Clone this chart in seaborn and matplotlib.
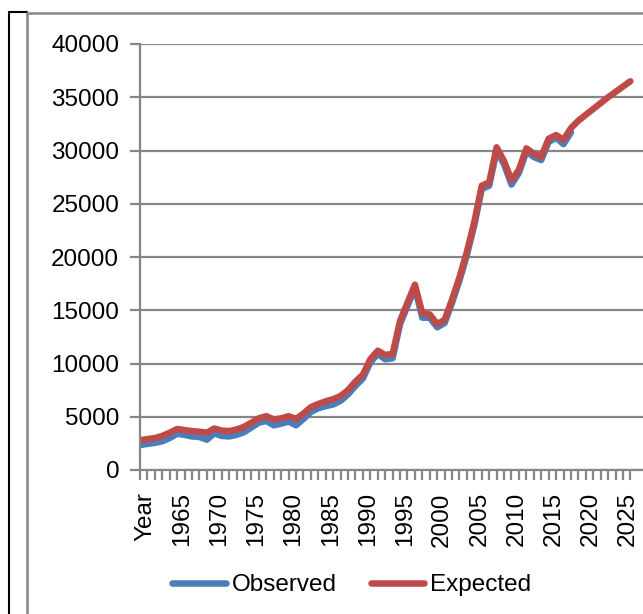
import matplotlib
matplotlib.use("Agg")
import matplotlib.pyplot as plt
import matplotlib.transforms as mtransforms
from matplotlib.lines import Line2D
import pandas as pd
import seaborn as sns

# category axis: first cell is the header "Year", then 1961..2026
categories = ["Year"] + [str(y) for y in range(1961, 2027)]

observed = [2350, 2450, 2550, 2700, 3000, 3400, 3300, 3150, 3100, 2850,
            3450, 3200, 3150, 3300, 3550, 4000, 4450, 4600, 4200, 4350,
            4550, 4200, 4800, 5450, 5800, 6000, 6150, 6500, 7100, 7900,
            8600, 10100, 10900, 10400, 10500, 13700, 15400, 17100, 14300, 14300,
            13400, 13800, 15700, 17800, 20200, 23000, 26400, 26700, 30000, 28700,
            26800, 27900, 29900, 29400, 29100, 30800, 31200, 30600, 31700]

expected = [2800, 2900, 3000, 3200, 3500, 3850, 3750, 3650, 3600, 3500,
            3900, 3700, 3650, 3800, 4050, 4450, 4850, 5050, 4750, 4850,
            5050, 4800, 5300, 5900, 6200, 6450, 6650, 6950, 7500, 8300,
            8950, 10400, 11200, 10800, 10900, 14000, 15700, 17400, 14700, 14600,
            13700, 14100, 16000, 18100, 20500, 23300, 26700, 27000, 30300, 29000,
            27200, 28200, 30200, 29700, 29400, 31100, 31450, 31000, 32100, 32800,
            33350, 33900, 34450, 35000, 35500, 36000, 36500]

df = pd.concat([
    pd.DataFrame({"pos": range(len(observed)), "value": observed, "series": "Observed"}),
    pd.DataFrame({"pos": range(len(expected)), "value": expected, "series": "Expected"}),
])

sns.set_style("white")
plt.rcParams['font.family'] = ['Liberation Sans', 'DejaVu Sans']
plt.rcParams['text.color'] = 'black'
plt.rcParams['xtick.labelcolor'] = 'black'
plt.rcParams['ytick.labelcolor'] = 'black'

fig = plt.figure(figsize=(6.43, 6.14), dpi=100)
ax = fig.add_axes([140 / 643, 1 - 470 / 614, 1 - 140 / 643, 426 / 614])

grey = "#868686"
sns.lineplot(data=df, x="pos", y="value", hue="series",
             hue_order=["Observed", "Expected"],
             palette={"Observed": "#4A7EBB", "Expected": "#BE4B48"},
             linewidth=4.7, solid_capstyle="round", solid_joinstyle="round",
             legend=False, ax=ax)

ax.set_xlim(0, 67.7)
ax.set_ylim(0, 40000)
ax.set_yticks(range(0, 40001, 5000))
ax.set_xticks(range(0, len(categories), 5))
ax.set_xticklabels(categories[::5], rotation=90)
ax.set_xticks(range(len(categories)), minor=True)
ax.set_xlabel("")
ax.set_ylabel("")

ax.grid(axis="y", color=grey, linewidth=1.6)
ax.grid(axis="x", visible=False)
ax.set_axisbelow(True)
for side in ["top", "right"]:
    ax.spines[side].set_visible(False)
for side in ["left", "bottom"]:
    ax.spines[side].set_color(grey)
    ax.spines[side].set_linewidth(1.6)

ax.tick_params(axis="y", direction="out", length=7, width=1.6, color=grey,
               pad=8, labelsize=17.5, labelcolor="black", left=True)
ax.tick_params(axis="x", which="both", direction="out", length=7, width=1.6,
               color=grey, pad=9, labelsize=17.5, labelcolor="black", bottom=True)

# nudge rotated labels to sit like the original
offset = mtransforms.ScaledTranslation(0.05, 0, fig.dpi_scale_trans)
for lab in ax.get_xticklabels():
    lab.set_transform(lab.get_transform() + offset)

handles = [Line2D([], [], color="#4A7EBB", linewidth=4.7, solid_capstyle="round"),
           Line2D([], [], color="#BE4B48", linewidth=4.7, solid_capstyle="round")]
fig.legend(handles, ["Observed", "Expected"], loc="center", ncol=2,
           bbox_to_anchor=(352 / 643, 1 - 585 / 614), frameon=False,
           fontsize=17.5, handlelength=2.2, handletextpad=0.25, columnspacing=1.4,
           labelcolor="black")

# chart frame lines
fig.add_artist(Line2D([9 / 643, 9 / 643], [0, 1 - 12 / 614], color="black",
                      linewidth=1.5, transform=fig.transFigure))
fig.add_artist(Line2D([9 / 643, 27 / 643], [1 - 12 / 614, 1 - 12 / 614], color="black",
                      linewidth=1.5, transform=fig.transFigure))
fig.add_artist(Line2D([27 / 643, 27 / 643], [0, 1 - 13 / 614], color=grey,
                      linewidth=1.8, transform=fig.transFigure))
fig.add_artist(Line2D([27 / 643, 1], [1 - 13 / 614, 1 - 13 / 614], color=grey,
                      linewidth=1.8, transform=fig.transFigure))

fig.savefig("out.png", dpi=100)
